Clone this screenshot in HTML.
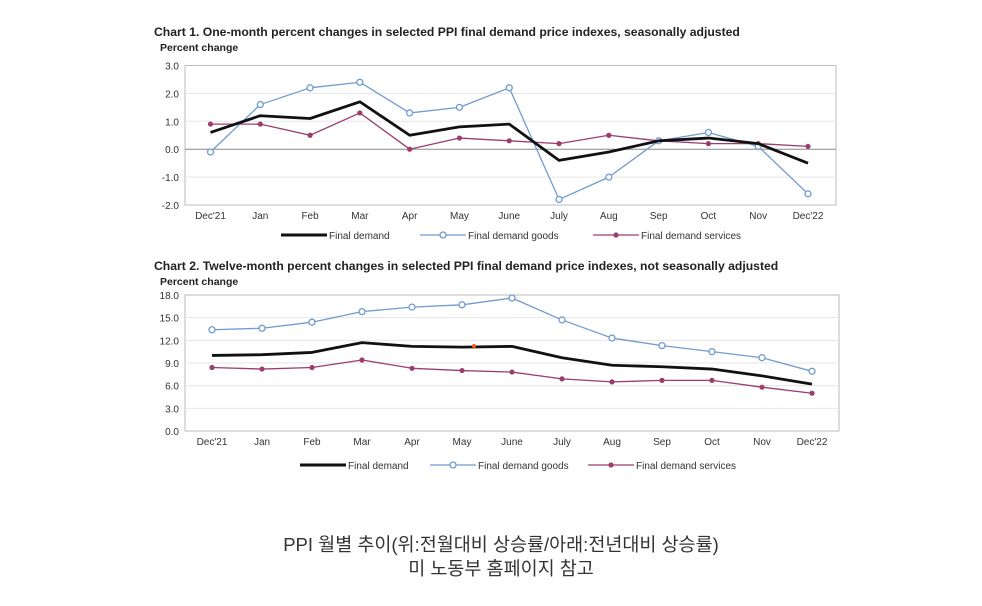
<!DOCTYPE html>
<html><head><meta charset="utf-8">
<style>
body{margin:0;background:#fff;width:982px;height:606px;overflow:hidden;font-family:"Liberation Sans",Arial,sans-serif;}
svg text{font-family:"Liberation Sans",Arial,sans-serif;}
.cap{position:absolute;left:10px;width:982px;text-align:center;font-family:"Liberation Sans","Noto Sans CJK KR",sans-serif;font-size:18.5px;color:#333;line-height:22px;}
</style></head><body>
<svg id="s" width="982" height="606" style="position:absolute;left:0;top:0"></svg>
<div class="cap" style="top:534px">PPI 월별 추이(위:전월대비 상승률/아래:전년대비 상승률)</div>
<div class="cap" style="top:558px">미 노동부 홈페이지 참고</div>
<script>
const categories=["Dec'21","Jan","Feb","Mar","Apr","May","June","July","Aug","Sep","Oct","Nov","Dec'22"];
const c1Final=[0.6,1.2,1.1,1.7,0.5,0.8,0.9,-0.4,-0.1,0.3,0.4,0.2,-0.5];
const c1Goods=[-0.1,1.6,2.2,2.4,1.3,1.5,2.2,-1.8,-1.0,0.3,0.6,0.1,-1.6];
const c1Services=[0.9,0.9,0.5,1.3,0.0,0.4,0.3,0.2,0.5,0.3,0.2,0.2,0.1];
const c1Ticks=[3,2,1,0,-1,-2];
const c2Final=[10.0,10.1,10.4,11.7,11.2,11.1,11.2,9.7,8.7,8.5,8.2,7.3,6.2];
const c2Goods=[13.4,13.6,14.4,15.8,16.4,16.7,17.6,14.7,12.3,11.3,10.5,9.7,7.9];
const c2Services=[8.4,8.2,8.4,9.4,8.3,8.0,7.8,6.9,6.5,6.7,6.7,5.8,5.0];
const c2Ticks=[18,15,12,9,6,3,0];

const svg=document.getElementById('s');
const NS='http://www.w3.org/2000/svg';
function mk(tag,attrs,parent){const e=document.createElementNS(NS,tag);for(const k in attrs)e.setAttribute(k,attrs[k]);(parent||svg).appendChild(e);return e;}
function txt(x,y,s,attrs){const e=mk('text',Object.assign({x:x,y:y},attrs));e.textContent=s;return e;}

function chart(cfg){
  const g=mk('g',{});
  
  
  const t=txt(154,cfg.titleY,cfg.title,{'font-size':'12.2','font-weight':'bold',fill:'#222'});
  
  
  const yt=txt(160,cfg.titleY+15,'Percent change',{'font-size':'10.5','font-weight':'bold',fill:'#222'});
  
  
  const y=v=>cfg.top+(cfg.max-v)/(cfg.max-cfg.min)*(cfg.bottom-cfg.top);
  const x=i=>cfg.x0+i*(cfg.x1-cfg.x0)/(categories.length-1);
  mk('rect',{x:cfg.left,y:cfg.top,width:cfg.right-cfg.left,height:cfg.bottom-cfg.top,fill:'none',stroke:'#bbb','stroke-width':1},g);
  cfg.ticks.forEach(v=>{
    if(v!==cfg.max&&v!==cfg.min){const l=mk('line',{x1:cfg.left,x2:cfg.right,y1:y(v),y2:y(v),stroke:v===0?'#888':'#e6e6e6','stroke-width':1},g);
    }
    const tl=txt(cfg.left-6,y(v)+4,v.toFixed(1),{'font-size':'10','text-anchor':'end',fill:'#333'});
    
    
  });
  categories.forEach((c,i)=>{
    const tl=txt(x(i),cfg.bottom+14,c,{'font-size':'10','text-anchor':'middle',fill:'#333'});
    
    
  });
  const series=[
    {d:cfg.services,col:'#9b3d6e',w:1.3,m:'star',n:'services'},
    {d:cfg.goods,col:'#6f9bd1',w:1.3,m:'circle',n:'goods'},
    {d:cfg.final,col:'#111',w:2.8,m:null,n:'final-demand'}];
  series.forEach(s=>{
    const p=mk('polyline',{points:s.d.map((v,i)=>x(i)+','+y(v)).join(' '),fill:'none',stroke:s.col,'stroke-width':s.w,'stroke-linejoin':'round'},g);
    
    
    if(s.m) s.d.forEach((v,i)=>{
      let m;
      if(s.m==='circle') m=mk('circle',{cx:x(i),cy:y(v),r:3,fill:'#fff',stroke:s.col,'stroke-width':1.3},g);
      else m=mk('circle',{cx:x(i),cy:y(v),r:2.6,fill:s.col},g);
      
      
    });
  });
  const ly=cfg.legendY;
  const lg=[{x:cfg.lx[0],col:'#111',w:3,m:null,t:'Final demand'},{x:cfg.lx[1],col:'#6f9bd1',w:1.3,m:'circle',t:'Final demand goods'},{x:cfg.lx[2],col:'#9b3d6e',w:1.3,m:'star',t:'Final demand services'}];
  lg.forEach(l=>{
    const e=mk('g',{},g);
    
    
    mk('line',{x1:l.x,x2:l.x+46,y1:ly,y2:ly,stroke:l.col,'stroke-width':l.w},e);
    if(l.m==='circle')mk('circle',{cx:l.x+23,cy:ly,r:3,fill:'#fff',stroke:l.col,'stroke-width':1.3},e);
    if(l.m==='star')mk('circle',{cx:l.x+23,cy:ly,r:2.6,fill:l.col},e);
    const tt=mk('text',{x:l.x+48,y:ly+4,'font-size':'10',fill:'#333'},e);tt.textContent=l.t;
  });
  return {x,y,g};
}
chart({name:'chart-1',title:'Chart 1. One-month percent changes in selected PPI final demand price indexes, seasonally adjusted',titleY:36,
  left:185,right:836,top:65.5,bottom:205,max:3,min:-2,ticks:c1Ticks,x0:210.5,x1:808,
  final:c1Final,goods:c1Goods,services:c1Services,legendY:235,lx:[281,420,593]});
const c2=chart({name:'chart-2',title:'Chart 2. Twelve-month percent changes in selected PPI final demand price indexes, not seasonally adjusted',titleY:270,
  left:185,right:839,top:295,bottom:431,max:18,min:0,ticks:c2Ticks,x0:212,x1:812,
  final:c2Final,goods:c2Goods,services:c2Services,legendY:465,lx:[300,430,588]});
const od=mk('circle',{cx:474,cy:346,r:2,fill:'#f06010'});


</script>
</body></html>
